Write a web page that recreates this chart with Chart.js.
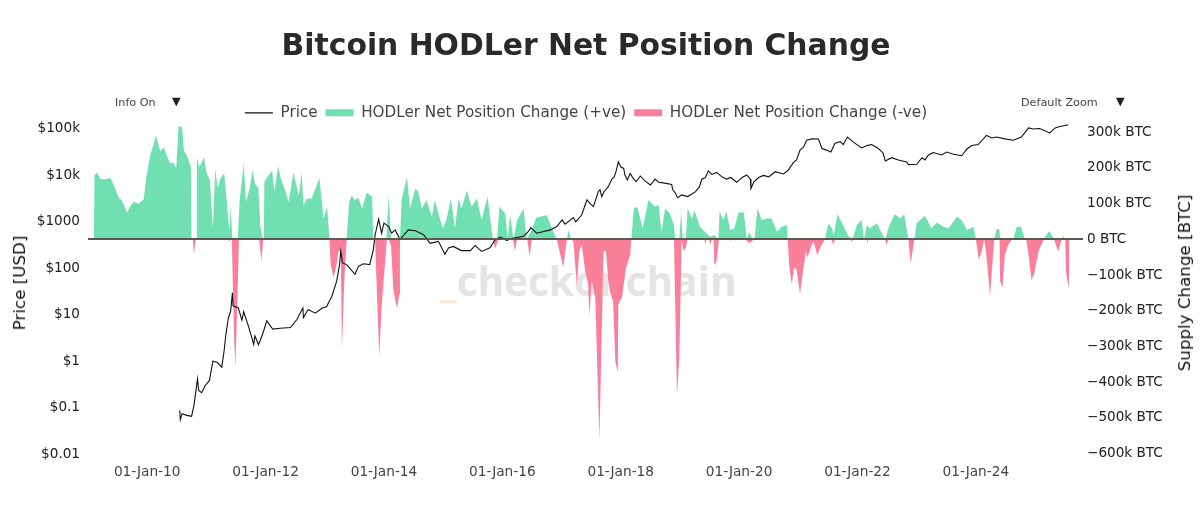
<!DOCTYPE html>
<html>
<head>
<meta charset="utf-8">
<title>Bitcoin HODLer Net Position Change</title>
<script src="https://cdn.jsdelivr.net/npm/chart.js@4"></script>
<style>
  html, body { margin: 0; padding: 0; background: #fff; }
  #wrap { position: relative; width: 1200px; height: 517px; overflow: hidden; font-family: "DejaVu Sans", sans-serif; }
  #myChart { position: absolute; left: 0; top: 0; z-index: 1; }
  .note { position: absolute; z-index: 2; font-size: 11.2px; color: #444; white-space: nowrap; }
  #mark { position: absolute; z-index: 0; left: 440px; top: 253px; font: 700 40.5px "Open Sans", sans-serif; color: #e4e4e4; white-space: nowrap; }
  #mark span { color: #fde6d2; }
  .axisTitle { position: absolute; z-index: 2; top: 283px; font-size: 16.7px; color: #111; white-space: nowrap; transform: translate(-50%, -50%) rotate(-90deg); }
</style>
</head>
<body>
<div id="wrap">
  <div id="mark"><span>_</span>checkonchain</div>
  <canvas id="myChart" width="1200" height="517"></canvas>
  <div class="note" style="left:115px;top:96px">Info On</div>
  <div class="note" style="left:172px;top:95px;color:#222">▼</div>
  <div class="note" style="left:1021px;top:96px">Default Zoom</div>
  <div class="note" style="left:1116px;top:95px;color:#222">▼</div>
  <div class="axisTitle" style="left:19px">Price [USD]</div>
  <div class="axisTitle" style="left:1184px">Supply Change [BTC]</div>
</div>
<script>
// Ticks
const yearTicks = [2010, 2012, 2014, 2016, 2018, 2020, 2022, 2024];
const yearLabels = ['01-Jan-10', '01-Jan-12', '01-Jan-14', '01-Jan-16', '01-Jan-18', '01-Jan-20', '01-Jan-22', '01-Jan-24'];
const priceTicks = [0.01, 0.1, 1, 10, 100, 1000, 10000, 100000];
const priceLabels = ['$0.01', '$0.1', '$1', '$10', '$100', '$1000', '$10k', '$100k'];
const supplyTicks = [-600, -500, -400, -300, -200, -100, 0, 100, 200, 300];
const supplyLabels = ['−600k BTC', '−500k BTC', '−400k BTC', '−300k BTC', '−200k BTC', '−100k BTC', '0 BTC', '100k BTC', '200k BTC', '300k BTC'];

// Price in USD
const priceYears = [2010.55, 2010.56, 2010.59, 2010.67, 2010.75, 2010.79, 2010.85, 2010.87, 2010.92, 2010.98, 2011.05, 2011.11, 2011.18, 2011.26, 2011.30, 2011.33, 2011.37, 2011.41, 2011.44, 2011.45, 2011.54, 2011.60, 2011.63, 2011.71, 2011.80, 2011.82, 2011.88, 2011.95, 2012.02, 2012.12, 2012.25, 2012.42, 2012.53, 2012.63, 2012.64, 2012.72, 2012.84, 2012.95, 2013.03, 2013.12, 2013.20, 2013.25, 2013.27, 2013.30, 2013.37, 2013.51, 2013.57, 2013.65, 2013.76, 2013.82, 2013.85, 2013.91, 2013.96, 2014.00, 2014.08, 2014.13, 2014.19, 2014.27, 2014.41, 2014.53, 2014.67, 2014.78, 2014.92, 2015.03, 2015.09, 2015.17, 2015.31, 2015.46, 2015.54, 2015.65, 2015.79, 2015.88, 2015.97, 2016.07, 2016.19, 2016.36, 2016.44, 2016.48, 2016.58, 2016.81, 2016.92, 2017.01, 2017.06, 2017.20, 2017.24, 2017.34, 2017.43, 2017.48, 2017.54, 2017.62, 2017.65, 2017.68, 2017.72, 2017.79, 2017.85, 2017.89, 2017.92, 2017.96, 2018.00, 2018.05, 2018.07, 2018.11, 2018.16, 2018.22, 2018.26, 2018.33, 2018.41, 2018.50, 2018.54, 2018.58, 2018.64, 2018.72, 2018.86, 2018.88, 2018.92, 2018.96, 2019.03, 2019.13, 2019.26, 2019.33, 2019.37, 2019.43, 2019.48, 2019.54, 2019.62, 2019.71, 2019.79, 2019.86, 2019.96, 2020.05, 2020.13, 2020.19, 2020.20, 2020.25, 2020.33, 2020.41, 2020.50, 2020.61, 2020.75, 2020.83, 2020.92, 2020.97, 2021.03, 2021.09, 2021.14, 2021.23, 2021.34, 2021.40, 2021.48, 2021.55, 2021.62, 2021.71, 2021.76, 2021.83, 2021.93, 2022.07, 2022.16, 2022.24, 2022.35, 2022.43, 2022.47, 2022.58, 2022.69, 2022.83, 2022.86, 2023.00, 2023.09, 2023.14, 2023.20, 2023.28, 2023.42, 2023.51, 2023.62, 2023.76, 2023.85, 2023.93, 2024.04, 2024.18, 2024.27, 2024.35, 2024.49, 2024.63, 2024.77, 2024.89, 2024.97, 2025.08, 2025.25, 2025.34, 2025.39, 2025.56];
const priceValues = [0.087, 0.055, 0.074, 0.068, 0.065, 0.112, 0.417, 0.234, 0.21, 0.30, 0.38, 1.0, 0.95, 0.74, 1.7, 3.8, 8.3, 12, 29.5, 15.5, 14, 7.6, 11.6, 5.7, 2.3, 3.5, 2.25, 3.8, 7.4, 4.9, 5.1, 5.3, 7.9, 13.9, 8.7, 13, 10.8, 13.8, 14.8, 25, 52, 120, 234, 130, 120, 74, 110, 125, 120, 250, 520, 1150, 570, 940, 790, 570, 670, 415, 670, 640, 530, 345, 380, 200, 275, 295, 240, 240, 310, 230, 275, 415, 470, 400, 445, 490, 620, 750, 570, 670, 790, 1100, 890, 1240, 1000, 1400, 2960, 2500, 2130, 4450, 4900, 3500, 4500, 5700, 8300, 9300, 12000, 19500, 15300, 14100, 10300, 8000, 11000, 8300, 7300, 9700, 7600, 6200, 7100, 8300, 7100, 6900, 6400, 4900, 4200, 3300, 3800, 3500, 4400, 5700, 8300, 9000, 12500, 10500, 11600, 9300, 8300, 9000, 7100, 9000, 10200, 8300, 5200, 7300, 9000, 10000, 9300, 12000, 10700, 13000, 19000, 21500, 35000, 41000, 57000, 61000, 60500, 38000, 35000, 32000, 49000, 53000, 46000, 67000, 52000, 39000, 44000, 46000, 38000, 30500, 20500, 24000, 21500, 19500, 17000, 17300, 24000, 21500, 27500, 31000, 27500, 31800, 28600, 26500, 37000, 44000, 46000, 72500, 64000, 67000, 61000, 57000, 67000, 105000, 100000, 102000, 82000, 105000, 110000, 123000];

// Net position change, thousands of BTC
const gainYears = [2009.10, 2009.11, 2009.15, 2009.21, 2009.29, 2009.38, 2009.46, 2009.52, 2009.57, 2009.66, 2009.71, 2009.77, 2009.85, 2009.94, 2009.99, 2010.05, 2010.11, 2010.15, 2010.22, 2010.28, 2010.34, 2010.39, 2010.44, 2010.49, 2010.53, 2010.59, 2010.62, 2010.67, 2010.74, 2010.75, 2010.83, 2010.84, 2010.88, 2010.92, 2010.96, 2011.00, 2011.06, 2011.11, 2011.15, 2011.19, 2011.23, 2011.30, 2011.35, 2011.39, 2011.41, 2011.44, 2011.53, 2011.56, 2011.63, 2011.67, 2011.73, 2011.78, 2011.82, 2011.88, 2011.91, 2011.95, 2011.97, 2011.98, 2012.05, 2012.11, 2012.15, 2012.21, 2012.26, 2012.31, 2012.39, 2012.47, 2012.56, 2012.61, 2012.64, 2012.70, 2012.78, 2012.91, 2012.98, 2013.04, 2013.08, 2013.37, 2013.41, 2013.46, 2013.50, 2013.57, 2013.63, 2013.71, 2013.80, 2013.82, 2014.04, 2014.08, 2014.12, 2014.27, 2014.30, 2014.39, 2014.44, 2014.53, 2014.58, 2014.64, 2014.72, 2014.81, 2014.86, 2014.95, 2015.00, 2015.06, 2015.13, 2015.20, 2015.26, 2015.31, 2015.40, 2015.48, 2015.57, 2015.65, 2015.75, 2015.84, 2015.91, 2015.95, 2016.05, 2016.09, 2016.13, 2016.19, 2016.25, 2016.36, 2016.41, 2016.51, 2016.57, 2016.75, 2016.86, 2016.92, 2017.09, 2017.12, 2017.16, 2018.18, 2018.22, 2018.28, 2018.37, 2018.47, 2018.58, 2018.64, 2018.69, 2018.75, 2018.83, 2018.90, 2018.92, 2018.99, 2019.02, 2019.05, 2019.10, 2019.13, 2019.20, 2019.25, 2019.34, 2019.45, 2019.51, 2019.58, 2019.65, 2019.67, 2019.74, 2019.78, 2019.85, 2019.92, 2019.99, 2020.08, 2020.13, 2020.17, 2020.23, 2020.26, 2020.31, 2020.38, 2020.47, 2020.55, 2020.64, 2020.72, 2020.81, 2020.82, 2021.45, 2021.51, 2021.57, 2021.60, 2021.66, 2021.73, 2021.85, 2021.92, 2021.99, 2022.07, 2022.11, 2022.16, 2022.21, 2022.33, 2022.41, 2022.47, 2022.54, 2022.63, 2022.72, 2022.79, 2022.86, 2022.96, 2023.00, 2023.14, 2023.25, 2023.34, 2023.45, 2023.54, 2023.68, 2023.76, 2023.85, 2023.96, 2024.00, 2024.31, 2024.35, 2024.40, 2024.41, 2024.63, 2024.69, 2024.76, 2024.83, 2025.14, 2025.24, 2025.32, 2025.45, 2025.48, 2025.51];
const gainValues = [0, 179, 187, 168, 168, 172, 142, 116, 110, 75, 91, 105, 100, 112, 179, 235, 267, 291, 246, 258, 230, 212, 216, 198, 318, 314, 249, 235, 202, 0, 0, 230, 202, 216, 230, 188, 165, 31, 198, 142, 168, 184, 96, 21, 93, 0, 0, 105, 212, 105, 142, 193, 156, 142, 40, 0, 0, 161, 179, 193, 133, 205, 170, 147, 105, 188, 123, 188, 96, 114, 114, 172, 58, 91, 0, 0, 105, 123, 110, 116, 86, 131, 119, 0, 0, 123, 0, 0, 114, 175, 86, 142, 133, 86, 110, 63, 110, 54, 31, 58, 114, 31, 114, 86, 137, 91, 114, 54, 119, 0, 0, 91, 72, 0, 68, 0, 54, 86, 0, 31, 60, 68, 21, 0, 0, 26, 0, 0, 86, 91, 31, 110, 91, 96, 21, 86, 72, 40, 0, 0, 77, 0, 0, 88, 58, 79, 35, 17, 7, 12, 0, 77, 54, 79, 26, 31, 75, 75, 0, 21, 0, 0, 88, 54, 58, 58, 21, 35, 40, 0, 0, 45, 31, 12, 70, 49, 7, 3, 40, 54, 0, 40, 31, 45, 17, 0, 40, 70, 58, 70, 0, 0, 45, 66, 31, 47, 35, 31, 63, 54, 26, 35, 0, 0, 29, 28, 0, 0, 35, 35, 0, 0, 23, 0, 0, 10, 0];
const lossYears = [2010.77, 2010.79, 2010.82, 2011.37, 2011.38, 2011.41, 2011.43, 2011.44, 2011.47, 2011.49, 2011.53, 2011.55, 2011.89, 2011.93, 2011.96, 2013.08, 2013.10, 2013.15, 2013.20, 2013.23, 2013.27, 2013.29, 2013.33, 2013.37, 2013.85, 2013.88, 2013.92, 2013.96, 2013.99, 2014.05, 2014.08, 2014.12, 2014.16, 2014.22, 2014.26, 2014.27, 2015.84, 2015.88, 2015.92, 2015.94, 2016.18, 2016.21, 2016.25, 2016.42, 2016.46, 2016.50, 2016.92, 2017.03, 2017.09, 2017.16, 2017.20, 2017.26, 2017.30, 2017.34, 2017.40, 2017.45, 2017.47, 2017.51, 2017.57, 2017.61, 2017.64, 2017.68, 2017.71, 2017.75, 2017.79, 2017.82, 2017.87, 2017.91, 2017.95, 2017.96, 2018.02, 2018.09, 2018.16, 2018.18, 2018.90, 2018.94, 2018.95, 2018.99, 2019.03, 2019.06, 2019.10, 2019.13, 2019.41, 2019.43, 2019.45, 2019.49, 2019.51, 2019.54, 2019.57, 2019.58, 2019.62, 2019.66, 2019.85, 2019.86, 2019.87, 2020.10, 2020.16, 2020.22, 2020.24, 2020.82, 2020.85, 2020.89, 2020.93, 2020.97, 2021.03, 2021.08, 2021.13, 2021.15, 2021.23, 2021.26, 2021.32, 2021.37, 2021.45, 2021.56, 2021.59, 2021.62, 2021.87, 2021.90, 2021.93, 2022.16, 2022.17, 2022.18, 2022.47, 2022.49, 2022.53, 2022.86, 2022.90, 2022.96, 2024.00, 2024.05, 2024.10, 2024.14, 2024.17, 2024.24, 2024.31, 2024.40, 2024.41, 2024.45, 2024.49, 2024.55, 2024.61, 2024.85, 2024.89, 2024.94, 2024.99, 2025.06, 2025.15, 2025.32, 2025.39, 2025.45, 2025.51, 2025.52, 2025.57, 2025.58];
const lossValues = [0, -43, 0, 0, -6, 0, 0, -80, -284, -358, -136, 0, 0, -61, 0, 0, -71, -108, -71, -33, -33, -307, -117, 0, 0, -145, -330, -191, -126, 0, 0, -19, -145, -193, -154, 0, 0, -26, -6, 0, 0, -33, 0, 0, -47, 0, 0, -80, 0, 0, -6, -131, -33, -15, -89, -126, -214, -117, -163, -396, -561, -256, -33, -33, -117, -149, -173, -344, -372, -182, -163, -80, -43, 0, 0, -349, -439, -331, 0, -33, -24, 0, 0, -13, 0, 0, -15, 0, 0, -73, -61, 0, 0, -7, 0, 0, -10, -6, 0, 0, -80, -126, -80, -84, -154, -89, -33, -52, -15, -6, -45, -24, 0, 0, -15, 0, 0, -6, 0, 0, -13, 0, 0, -15, 0, 0, -68, 0, 0, -57, -33, 0, -33, -159, 0, 0, -117, -136, -43, -15, 0, 0, -43, -115, -94, -33, 0, 0, -35, 0, 0, -89, -137, 0];

const zip = (xs, ys) => xs.map((x, i) => ({ x: x, y: ys[i] }));
const fontName = '"DejaVu Sans", sans-serif';
const legendLap = 10.5;

// the legend sits over the top of the plot, so it should not take all its layout height
const legendOverlap = {
  id: 'legendOverlap',
  beforeInit(chart) {
    const fit = chart.legend.fit;
    const draw = chart.legend.draw;
    chart.legend.fit = function () {
      fit.call(this);
      this.height -= legendLap;
    };
    chart.legend.draw = function () {
      this.bottom += legendLap;
      draw.call(this);
      this.bottom -= legendLap;
    };
  }
};

const ctx = document.getElementById('myChart').getContext('2d');

new Chart(ctx, {
  type: 'line',
  plugins: [legendOverlap],
  data: {
    datasets: [
      {
        label: 'Price',
        data: zip(priceYears, priceValues),
        yAxisID: 'y',
        borderColor: '#111',
        backgroundColor: '#111',
        borderWidth: 1.1,
        pointRadius: 0,
        pointStyle: 'line',
        fill: false
      },
      {
        label: 'HODLer Net Position Change (+ve)',
        data: zip(gainYears, gainValues),
        yAxisID: 'y2',
        borderColor: '#70e0b2',
        backgroundColor: '#70e0b2',
        borderWidth: 0,
        pointRadius: 0,
        pointStyle: 'rect',
        fill: 'origin'
      },
      {
        label: 'HODLer Net Position Change (-ve)',
        data: zip(lossYears, lossValues),
        yAxisID: 'y2',
        borderColor: '#fa7f9b',
        backgroundColor: '#fa7f9b',
        borderWidth: 0,
        pointRadius: 0,
        pointStyle: 'rect',
        fill: 'origin'
      }
    ]
  },
  options: {
    responsive: false,
    animation: false,
    parsing: false,
    layout: { padding: { top: 29, bottom: 30.5, right: 28 } },
    plugins: {
      tooltip: { enabled: false },
      title: {
        display: true,
        text: 'Bitcoin HODLer Net Position Change',
        color: '#2a2a2a',
        font: { family: fontName, size: 29.8, weight: 'bold' },
        padding: { top: 0, bottom: 32.5 }
      },
      legend: {
        position: 'top',
        labels: {
          usePointStyle: true,
          pointStyleWidth: 28,
          boxHeight: 7,
          color: '#444',
          font: { family: fontName, size: 15.2 },
          padding: 8
        }
      }
    },
    scales: {
      x: {
        type: 'linear',
        min: 2009.0,
        max: 2025.81,
        grid: { display: false, drawTicks: false },
        border: { display: false },
        afterBuildTicks: (scale) => { scale.ticks = yearTicks.map((v) => ({ value: v })); },
        ticks: {
          color: '#444',
          padding: 6,
          maxRotation: 0,
          autoSkip: false,
          font: { family: fontName, size: 13.7 },
          callback: (v) => yearLabels[yearTicks.indexOf(v)]
        }
      },
      y: {
        type: 'logarithmic',
        position: 'left',
        min: 0.0082,
        max: 156000,
        grid: { display: false, drawTicks: false },
        border: { display: false },
        afterBuildTicks: (scale) => { scale.ticks = priceTicks.map((v) => ({ value: v })); },
        afterFit: (scale) => { scale.width = 88; },
        ticks: {
          color: '#222',
          padding: 8,
          autoSkip: false,
          font: { family: fontName, size: 13.6 },
          callback: (v) => priceLabels[priceTicks.indexOf(v)]
        }
      },
      y2: {
        type: 'linear',
        position: 'right',
        min: -612.8,
        max: 334.3,
        border: { display: false },
        grid: {
          drawTicks: false,
          z: 1,
          color: (c) => (c.tick && c.tick.value === 0 ? '#5c5a50' : 'rgba(0,0,0,0)'),
          lineWidth: (c) => (c.tick && c.tick.value === 0 ? 2 : 0)
        },
        afterBuildTicks: (scale) => { scale.ticks = supplyTicks.map((v) => ({ value: v })); },
        afterFit: (scale) => { scale.width = 89; },
        ticks: {
          color: '#222',
          padding: 4,
          autoSkip: false,
          font: { family: fontName, size: 13.6 },
          callback: (v) => supplyLabels[supplyTicks.indexOf(v)]
        }
      }
    }
  }
});
</script>
</body>
</html>
